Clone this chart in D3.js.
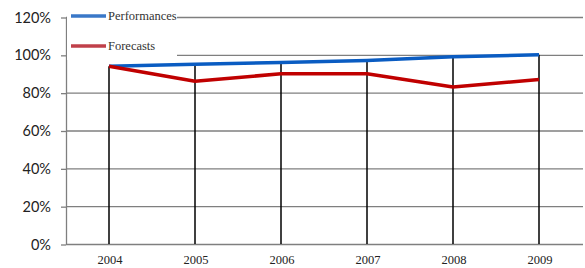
<!DOCTYPE html>
<html>
<head>
<meta charset="utf-8">
<script src="https://cdn.jsdelivr.net/npm/d3@7"></script>
<style>
  body { margin: 0; background: #fff; }
</style>
</head>
<body>
<div id="chart-area"></div>
<script>
const years = ["2004", "2005", "2006", "2007", "2008", "2009"];
const performances = [94, 95, 96, 97, 99, 100];
const forecasts = [94, 86, 90, 90, 83, 87];
const yTicks = [0, 20, 40, 60, 80, 100, 120];

const svgWidth = 585, svgHeight = 268;
const margins = {top: 17, bottom: 24, left: 66, right: 2};

const svg = d3.select("#chart-area")
  .append("svg")
    .attr("width", svgWidth)
    .attr("height", svgHeight);

const x = d3.scalePoint()
  .domain(years)
  .range([109, 539]);

const y = d3.scaleLinear()
  .domain([0, 120])
  .range([svgHeight - margins.bottom, margins.top]);

// gridlines
svg.append("g")
  .selectAll("line")
  .data(yTicks)
  .join("line")
    .attr("x1", margins.left)
    .attr("x2", svgWidth - margins.right)
    .attr("y1", d => y(d) + 0.5)
    .attr("y2", d => y(d) + 0.5)
    .attr("stroke", "#7f7f7f")
    .attr("stroke-width", 1.3);

// y axis
const yAxis = svg.append("g")
  .attr("transform", `translate(${margins.left},0.5)`)
  .call(d3.axisLeft(y).tickValues(yTicks).tickFormat(d => d + "%").tickSize(5).tickSizeOuter(0).tickPadding(10));
yAxis.select(".domain").attr("stroke", "#7f7f7f").attr("stroke-width", 1.3);
yAxis.selectAll("line").attr("stroke", "#7f7f7f").attr("stroke-width", 1.3);
yAxis.selectAll("text")
  .attr("font-family", "Lato, 'Open Sans', sans-serif")
  .attr("font-size", 14.5)
  .attr("fill", "#222");

// drop lines
const series = years.map((yr, i) => ({year: yr, p: performances[i], f: forecasts[i]}));
svg.append("g")
  .selectAll("line")
  .data(series)
  .join("line")
    .attr("x1", d => x(d.year))
    .attr("x2", d => x(d.year))
    .attr("y1", d => y(Math.max(d.p, d.f)))
    .attr("y2", y(0))
    .attr("stroke", "#000")
    .attr("stroke-width", 1.5);

// x labels
svg.append("g")
  .selectAll("text")
  .data(years)
  .join("text")
    .text(d => d)
    .attr("x", d => x(d) + 1)
    .attr("y", 264)
    .attr("text-anchor", "middle")
    .attr("font-family", "'Liberation Serif', serif")
    .attr("font-size", 12.5)
    .attr("fill", "#222");

const line = d3.line()
  .x((d, i) => x(years[i]))
  .y(d => y(d));

svg.append("path")
  .datum(performances)
  .attr("fill", "none")
  .attr("stroke", "#0a5cc2")
  .attr("stroke-width", 3.5)
  .attr("stroke-linejoin", "round")
  .attr("d", line);

svg.append("path")
  .datum(forecasts)
  .attr("fill", "none")
  .attr("stroke", "#c00000")
  .attr("stroke-width", 3.5)
  .attr("stroke-linejoin", "round")
  .attr("d", line);

// legend
const legend = svg.append("g");
legend.append("rect")
  .attr("x", margins.left + 1)
  .attr("y", 8)
  .attr("width", 110)
  .attr("height", 52)
  .attr("fill", "#fff");

const legendItems = [
  {name: "Performances", color: "#3a78c8", y: 16},
  {name: "Forecasts", color: "#c0404a", y: 46}
];
const li = legend.selectAll("g.item")
  .data(legendItems)
  .join("g")
    .attr("class", "item");
li.append("line")
  .attr("x1", 71)
  .attr("x2", 106)
  .attr("y1", d => d.y)
  .attr("y2", d => d.y)
  .attr("stroke", d => d.color)
  .attr("stroke-width", 3.5);
li.append("text")
  .text(d => d.name)
  .attr("x", 108)
  .attr("y", d => d.y + 3.5)
  .attr("font-family", "'Liberation Serif', serif")
  .attr("font-size", 12.5)
  .attr("fill", "#333");
</script>
</body>
</html>
